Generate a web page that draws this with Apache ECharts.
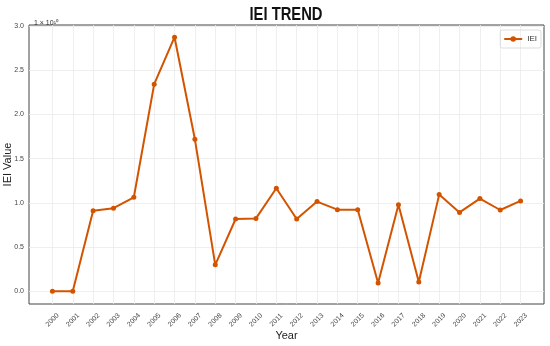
<!DOCTYPE html>
<html><head><meta charset="utf-8">
<script src="https://cdn.jsdelivr.net/npm/echarts@6/dist/echarts.min.js"></script>
<style>html,body{margin:0;padding:0;background:#fff}#c{width:550px;height:346px}</style>
</head><body><div id="c"></div>
<script>
var years = [2000,2001,2002,2003,2004,2005,2006,2007,2008,2009,2010,2011,2012,2013,2014,2015,2016,2017,2018,2019,2020,2021,2022,2023];
// IEI values in units of 1e10
var iei = [0,0,0.912,0.94,1.064,2.344,2.875,1.72,0.30,0.818,0.825,1.166,0.818,1.015,0.924,0.924,0.094,0.98,0.106,1.094,0.893,1.049,0.92,1.023];
var yTicks = [0,0.5,1.0,1.5,2.0,2.5,3.0];
var titleText = 'IEI TREND';

var chart = echarts.init(document.getElementById('c'));
var data = years.map(function(y,i){return [y, iei[i]];});
chart.setOption({
  animation:false,
  title:[
    {text:'1 × 10¹⁰', left:29, top:15, textStyle:{fontFamily:'Liberation Sans', fontWeight:'normal', fontSize:7, color:'#333'}}
  ],
  graphic:[
    {type:'text', x:286, y:15.5, scaleX:0.82, style:{text:titleText, x:0, y:0, align:'center', verticalAlign:'middle',
      font:'bold 18px "Liberation Sans", Arial, sans-serif', fill:'#111'}}
  ],
  legend:{top:30, right:9, itemWidth:18, itemHeight:7, padding:[5,4,5,3], itemGap:4,
    borderColor:'#ddd', borderWidth:1, borderRadius:2,
    textStyle:{fontFamily:'Liberation Sans', fontSize:8, color:'#333'}, data:['IEI']},
  grid:{left:29, right:6, top:25, bottom:42, show:true, borderColor:'#444', borderWidth:1, containLabel:false, outerBoundsMode:'none'},
  xAxis:{type:'value', min:1998.85, max:2024.15, name:'Year', nameLocation:'middle', nameGap:26, nameMoveOverlap:false,
    nameTextStyle:{fontFamily:'Liberation Sans', fontSize:11, color:'#222'},
    axisLine:{show:false}, axisTick:{show:false, customValues:years},
    axisLabel:{customValues:years, rotate:45, align:'center', verticalAlign:'middle', fontSize:7, color:'#444', fontFamily:'Liberation Sans', margin:16, formatter:function(v){return String(v);}},
    splitLine:{show:false}},
  yAxis:{type:'value', min:-0.1435, max:3.013, name:'IEI Value', nameLocation:'middle', nameGap:16, nameMoveOverlap:false,
    nameTextStyle:{fontFamily:'Liberation Sans', fontSize:11, color:'#222'},
    axisLine:{show:false}, axisTick:{show:false, customValues:yTicks},
    axisLabel:{customValues:yTicks, fontSize:7, color:'#444', fontFamily:'Liberation Sans', margin:5, formatter:function(v){return v.toFixed(1);}},
    splitLine:{show:false}},
  series:[
    {name:'grid', type:'line', data:[], silent:true, legendHoverLink:false, z:1,
      markLine:{silent:true, z:1, symbol:'none', label:{show:false}, lineStyle:{color:'#ebebeb', width:0.8, type:'solid'},
        data: years.map(function(y){return {xAxis:y};}).concat(yTicks.map(function(t){return {yAxis:t};}))}},
    {name:'IEI', type:'line', data:data, color:'#d35400', symbol:'circle', symbolSize:5, z:10,
      lineStyle:{width:2, color:'#d35400'}, itemStyle:{color:'#d35400'}}
  ]
});
</script></body></html>
